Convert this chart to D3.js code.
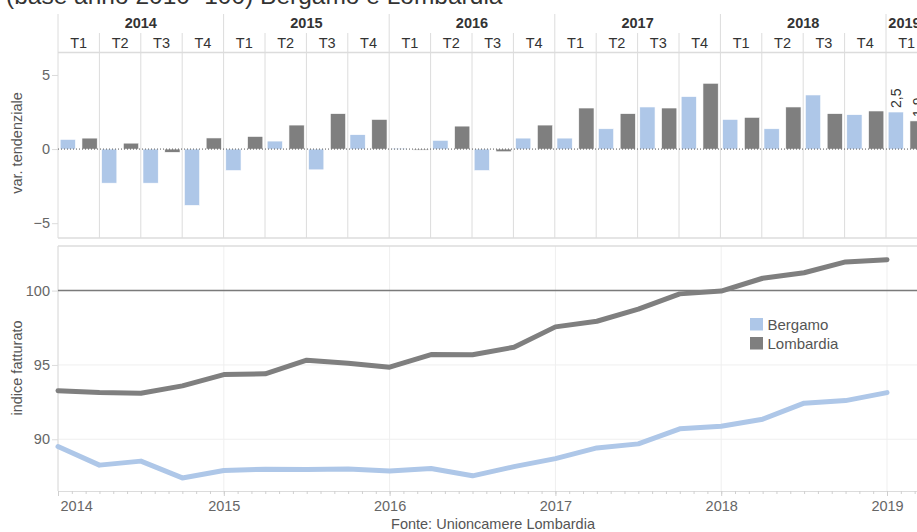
<!DOCTYPE html>
<html><head><meta charset="utf-8">
<script src="https://cdn.jsdelivr.net/npm/d3@7"></script>
<style>
html,body{margin:0;padding:0;background:#fff;}
svg{display:block;font-family:"Liberation Sans",Arial,sans-serif;}
</style></head>
<body>
<svg id="c" width="917" height="532"></svg>
<script>
// ---- data ----
const years = [2014, 2015, 2016, 2017, 2018, 2019];
const quarterNames = ["T1", "T2", "T3", "T4"];
const periodYears =    [2014,2014,2014,2014,2015,2015,2015,2015,2016,2016,2016,2016,2017,2017,2017,2017,2018,2018,2018,2018,2019];
const periodQuarters = ["T1","T2","T3","T4","T1","T2","T3","T4","T1","T2","T3","T4","T1","T2","T3","T4","T1","T2","T3","T4","T1"];
const series = ["Bergamo", "Lombardia"];
const bergamoVar   = [0.65,-2.3,-2.3,-3.8,-1.45,0.54,-1.4,0.97,0.05,0.59,-1.45,0.74,0.74,1.37,2.84,3.54,2.0,1.37,3.65,2.32,2.5];
const lombardiaVar = [0.74,0.4,-0.22,0.75,0.85,1.62,2.39,2.0,-0.05,1.55,-0.18,1.62,2.77,2.39,2.77,4.44,2.14,2.84,2.39,2.57,1.9];
const indexTime    = [2014,2014.25,2014.5,2014.75,2015,2015.25,2015.5,2015.75,2016,2016.25,2016.5,2016.75,2017,2017.25,2017.5,2017.75,2018,2018.25,2018.5,2018.75,2019];
const bergamoIdx   = [89.51,88.26,88.53,87.4,87.9,87.99,87.96,88.0,87.87,88.03,87.54,88.16,88.7,89.42,89.69,90.7,90.88,91.35,92.43,92.6,93.14];
const lombardiaIdx = [93.27,93.14,93.1,93.59,94.35,94.4,95.32,95.12,94.85,95.7,95.68,96.19,97.56,97.94,98.75,99.78,99.97,100.83,101.2,101.93,102.08];
const varTicks = [-5, 0, 5];
const idxTicks = [90, 95, 100];
const labelledPeriod = 20; // last period shows data labels
const colors = {Bergamo: "#aec7e8", Lombardia: "#7f7f7f"};
const fmt = v => d3.format(".1f")(v).replace(".", ",");

// ---- layout ----
const W = 917, H = 532;
const L = 58, R = 917;
const hdrTop = 14, hdrMid = 33, hdrBot = 52;
const barTop = 52, barBot = 238;
const lnTop = 246, lnBot = 491;
const gridCol = "#dcdcdc", lightGrid = "#efefef", tickText = "#666";

const svg = d3.select("#c");

// title (clipped at top)
svg.append("text").attr("x", 6).attr("y", 4)
  .attr("font-size", 24.5).attr("fill", "#333")
  .text("(base anno 2010=100) Bergamo e Lombardia");

const keys = periodYears.map((y, i) => y + "-" + periodQuarters[i]);
const qStep = 41.4;
const xq = d3.scaleBand().domain(keys).range([L, L + qStep * keys.length]).padding(0);
const xs = d3.scaleBand().domain(series).range([0, xq.bandwidth()]).paddingInner(0.3).paddingOuter(0.1);
const yb = d3.scaleLinear().domain([-6.0, 6.55]).range([barBot, barTop]);

// header: years
years.forEach(y => {
  const ks = keys.filter((k, i) => periodYears[i] === y);
  const x0 = xq(ks[0]), x1 = xq(ks[ks.length - 1]) + xq.bandwidth();
  const vx0 = Math.max(x0, L), vx1 = Math.min(x1, R);
  svg.append("text").attr("x", (vx0 + vx1) / 2 + (x1 > R ? 3 : 0)).attr("y", 27.5)
    .attr("text-anchor", "middle").attr("font-size", 14.5).attr("font-weight", "bold")
    .attr("fill", "#333").text(y);
  svg.append("line").attr("x1", x0).attr("x2", x0).attr("y1", hdrTop).attr("y2", barBot)
    .attr("stroke", gridCol).attr("stroke-width", 1);
});
// header: quarters
keys.forEach((k, i) => {
  const x0 = xq(k);
  svg.append("text").attr("x", x0 + xq.bandwidth() / 2).attr("y", 47.5)
    .attr("text-anchor", "middle").attr("font-size", 14.5).attr("fill", "#333")
    .text(periodQuarters[i]);
  if (periodQuarters[i] !== "T1") {
    svg.append("line").attr("x1", x0).attr("x2", x0).attr("y1", hdrMid).attr("y2", barBot)
      .attr("stroke", gridCol).attr("stroke-width", 1);
  }
});
svg.append("line").attr("x1", L).attr("x2", R).attr("y1", hdrBot + 0.5).attr("y2", hdrBot + 0.5)
  .attr("stroke", gridCol).attr("stroke-width", 1.5);
svg.append("line").attr("x1", L).attr("x2", R).attr("y1", barBot).attr("y2", barBot)
  .attr("stroke", gridCol).attr("stroke-width", 1.5);

// bar y axis
const yAxisB = d3.axisLeft(yb).tickValues(varTicks).tickSize(6).tickPadding(2);
const gyb = svg.append("g").attr("transform", `translate(${L},0)`).call(yAxisB);
gyb.select(".domain").remove();
gyb.selectAll(".tick line").attr("stroke", gridCol);
gyb.selectAll(".tick text").attr("font-size", 14.5).attr("fill", tickText)
  .attr("font-family", "Liberation Sans, Arial, sans-serif");

svg.append("text").attr("transform", `translate(22,143) rotate(-90)`)
  .attr("text-anchor", "middle").attr("font-size", 14.5).attr("fill", "#555")
  .text("var. tendenziale");

// bars
const barData = [];
keys.forEach((k, i) => {
  barData.push({k, s: "Bergamo", v: bergamoVar[i], i});
  barData.push({k, s: "Lombardia", v: lombardiaVar[i], i});
});
svg.append("g").selectAll("rect").data(barData).join("rect")
  .attr("x", d => xq(d.k) + xs(d.s))
  .attr("width", xs.bandwidth())
  .attr("y", d => yb(Math.max(0, d.v)))
  .attr("height", d => Math.max(1, Math.abs(yb(d.v) - yb(0))))
  .attr("fill", d => colors[d.s])
  .attr("stroke", "#fff").attr("stroke-width", 0.6);

// zero line
svg.append("line").attr("x1", L).attr("x2", R).attr("y1", yb(0)).attr("y2", yb(0))
  .attr("stroke", "#555").attr("stroke-width", 1).attr("stroke-dasharray", "1,2");

// data labels
barData.filter(d => d.i === labelledPeriod).forEach(d => {
  const cx = xq(d.k) + xs(d.s) + xs.bandwidth() / 2;
  svg.append("text").attr("transform", `translate(${cx + 5},${yb(d.v) - 4}) rotate(-90)`)
    .attr("font-size", 14).attr("fill", "#333").text(fmt(d.v));
});

// ---- line panel ----
const xt = d3.scaleLinear().domain([2014, 2019]).range([L, 887]);
const yl = d3.scaleLinear().domain([86.52, 103.0]).range([lnBot, lnTop]);

// gridlines
idxTicks.forEach(t => {
  svg.append("line").attr("x1", L).attr("x2", R).attr("y1", yl(t)).attr("y2", yl(t))
    .attr("stroke", lightGrid).attr("stroke-width", 1);
});
years.forEach(y => {
  svg.append("line").attr("x1", xt(y)).attr("x2", xt(y)).attr("y1", lnTop).attr("y2", lnBot)
    .attr("stroke", lightGrid).attr("stroke-width", 1);
});
svg.append("line").attr("x1", L).attr("x2", R).attr("y1", lnTop).attr("y2", lnTop)
  .attr("stroke", gridCol).attr("stroke-width", 1.5);
svg.append("line").attr("x1", L).attr("x2", L).attr("y1", lnTop).attr("y2", lnBot)
  .attr("stroke", gridCol).attr("stroke-width", 1);

// y axis
const yAxisL = d3.axisLeft(yl).tickValues(idxTicks).tickSize(6).tickPadding(2);
const gyl = svg.append("g").attr("transform", `translate(${L},0)`).call(yAxisL);
gyl.select(".domain").remove();
gyl.selectAll(".tick line").attr("stroke", gridCol);
gyl.selectAll(".tick text").attr("font-size", 14.5).attr("fill", tickText)
  .attr("font-family", "Liberation Sans, Arial, sans-serif");

svg.append("text").attr("transform", `translate(22,368) rotate(-90)`)
  .attr("text-anchor", "middle").attr("font-size", 14.5).attr("fill", "#555")
  .text("indice fatturato");

// x axis (monthly minor ticks, yearly labels)
const monthTicks = d3.range(0, 63).map(m => 2014 + m / 12).filter(v => xt(v) <= R);
const gxm = svg.append("g").attr("transform", `translate(0,${lnBot})`)
  .call(d3.axisBottom(xt).tickValues(monthTicks).tickSize(3).tickFormat(""));
gxm.select(".domain").attr("stroke", gridCol).attr("d", `M${L},0.5H${R}`);
gxm.selectAll(".tick line").attr("stroke", "#d0d0d0");
const gx = svg.append("g").attr("transform", `translate(0,${lnBot})`)
  .call(d3.axisBottom(xt).tickValues(years).tickSize(5).tickPadding(5).tickFormat(d3.format("d")));
gx.select(".domain").remove();
gx.selectAll(".tick line").attr("stroke", "#cfcfcf");
gx.selectAll(".tick text").attr("font-size", 14.5).attr("fill", tickText)
  .attr("font-family", "Liberation Sans, Arial, sans-serif")
  .attr("text-anchor", d => d === 2014 ? "start" : "middle")
  .attr("dx", d => d === 2014 ? 2 : 0);

// reference line at 100
svg.append("line").attr("x1", L).attr("x2", R).attr("y1", yl(100)).attr("y2", yl(100))
  .attr("stroke", "#7a7a7a").attr("stroke-width", 1.5);

// lines
const line = d3.line().x(d => xt(d[0])).y(d => yl(d[1]));
[["Bergamo", bergamoIdx], ["Lombardia", lombardiaIdx]].forEach(([s, vals]) => {
  svg.append("path").datum(indexTime.map((t, i) => [t, vals[i]]))
    .attr("d", line).attr("fill", "none").attr("stroke", colors[s])
    .attr("stroke-width", 5).attr("stroke-linejoin", "round").attr("stroke-linecap", "round");
});

// legend
series.forEach((s, i) => {
  const y0 = 318 + i * 19;
  svg.append("rect").attr("x", 750).attr("y", y0).attr("width", 13).attr("height", 12.5)
    .attr("fill", colors[s]);
  svg.append("text").attr("x", 767.5).attr("y", y0 + 12).attr("font-size", 15)
    .attr("fill", "#555").text(s);
});

// footer
svg.append("text").attr("x", 493).attr("y", 529).attr("text-anchor", "middle")
  .attr("font-size", 14.5).attr("fill", "#555").text("Fonte: Unioncamere Lombardia");
</script>
</body></html>
